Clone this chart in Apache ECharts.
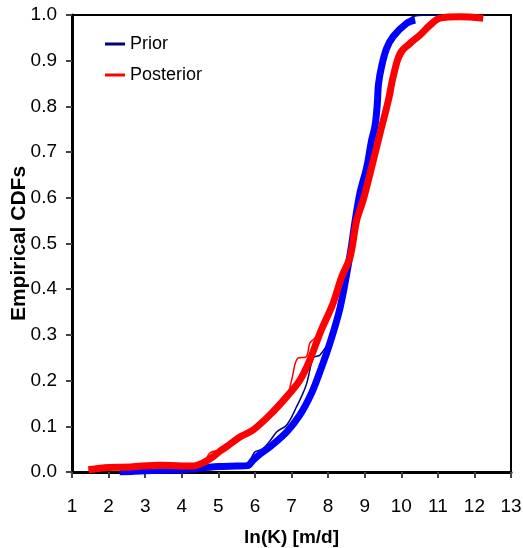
<!DOCTYPE html>
<html>
<head>
<meta charset="utf-8">
<script src="https://cdn.jsdelivr.net/npm/echarts@6/dist/echarts.min.js"></script>
<style>
html, body { margin: 0; padding: 0; background: #fff; }
#chart { width: 523px; height: 548px; }
</style>
</head>
<body>
<div id="chart"></div>
<script>
// 先验 / 后验 经验累积分布
var priorX = [2.3, 3.0, 4.0, 4.6, 5.0, 5.5, 5.8, 5.95, 6.15, 6.41, 6.87, 7.23, 7.55, 7.78, 8.05, 8.33, 8.6, 8.74, 8.87, 9.06, 9.19, 9.28, 9.34, 9.38, 9.47, 9.6, 9.78, 10.15, 10.38];
var priorY = [0.0, 0.003, 0.005, 0.009, 0.012, 0.013, 0.014, 0.026, 0.04, 0.055, 0.088, 0.125, 0.173, 0.22, 0.282, 0.36, 0.475, 0.55, 0.61, 0.668, 0.726, 0.756, 0.80, 0.85, 0.89, 0.927, 0.953, 0.982, 0.989];

var postX = [1.45, 2.0, 2.6, 3.4, 4.0, 4.3, 4.58, 4.85, 5.05, 5.22, 5.6, 5.95, 6.41, 6.87, 7.23, 7.5, 7.78, 8.14, 8.37, 8.6, 8.78, 8.96, 9.15, 9.42, 9.65, 9.78, 9.97, 10.24, 10.51, 10.79, 11.06, 11.6, 12.24];
var postY = [0.005, 0.01, 0.011, 0.015, 0.013, 0.013, 0.02, 0.033, 0.046, 0.055, 0.077, 0.092, 0.125, 0.165, 0.201, 0.245, 0.304, 0.37, 0.427, 0.47, 0.55, 0.595, 0.654, 0.741, 0.814, 0.865, 0.916, 0.938, 0.956, 0.978, 0.993, 0.996, 0.993];

// 细线 (单个实现)
var priorThinX = [2.3, 4.0, 5.0, 5.75, 5.9, 6.0, 6.2, 6.41, 6.6, 6.87, 7.14, 7.4, 7.6, 7.78, 8.05, 8.33, 8.6, 8.87, 9.06, 9.19, 9.28, 9.38, 9.6, 9.78, 10.15, 10.3, 10.7, 11.05];
var priorThinY = [0.0, 0.004, 0.011, 0.013, 0.03, 0.044, 0.05, 0.068, 0.088, 0.103, 0.143, 0.19, 0.25, 0.256, 0.29, 0.36, 0.475, 0.61, 0.668, 0.726, 0.756, 0.85, 0.927, 0.953, 0.982, 0.996, 1.0, 1.0];

var postThinX = [1.45, 2.6, 4.0, 4.58, 4.75, 4.85, 5.0, 5.22, 5.6, 5.95, 6.41, 6.87, 7.0, 7.17, 7.4, 7.5, 7.6, 7.78, 8.14, 8.6, 8.96, 9.42, 9.78, 10.24, 10.79, 11.06, 11.3, 12.0];
var postThinY = [0.005, 0.011, 0.013, 0.02, 0.04, 0.045, 0.047, 0.055, 0.077, 0.092, 0.125, 0.165, 0.2, 0.249, 0.252, 0.282, 0.29, 0.304, 0.37, 0.47, 0.595, 0.741, 0.865, 0.938, 0.978, 0.993, 1.0, 1.0];

function pairs(xs, ys) {
	var out = [];
	for (var i = 0; i < xs.length; i++) {
		out.push([xs[i], ys[i]]);
	}
	return out;
}

var font = 'Liberation Sans, Arial, sans-serif';
var myChart = echarts.init(document.getElementById('chart'));

var option = {
	animation : false,
	backgroundColor : '#fff',
	grid : {
		left : 72,
		right : 12,
		top : 15,
		bottom : 76,
		containLabel : false,
		outerBoundsMode : 'none',
		show : true,
		borderColor : '#000',
		borderWidth : 2
	},
	legend : {
		orient : 'vertical',
		left : 100,
		top : 30,
		itemWidth : 20,
		itemHeight : 3,
		itemGap : 13,
		icon : 'rect',
		textStyle : {
			fontFamily : font,
			fontSize : 18,
			color : '#000'
		},
		data : [ 'Prior', 'Posterior' ]
	},
	xAxis : {
		type : 'value',
		min : 1,
		max : 13,
		interval : 1,
		name : 'ln(K) [m/d]',
		nameLocation : 'middle',
		nameGap : 56,
		nameMoveOverlap : false,
		nameTextStyle : {
			fontFamily : font,
			fontSize : 19,
			fontWeight : 'bold',
			color : '#000'
		},
		axisLine : {
			onZero : false,
			lineStyle : { color : '#000', width : 3 }
		},
		axisTick : {
			inside : false,
			length : 6,
			lineStyle : { color : '#444', width : 2 }
		},
		axisLabel : {
			margin : 25,
			fontFamily : font,
			fontSize : 19,
			color : '#000'
		},
		splitLine : { show : false }
	},
	yAxis : {
		type : 'value',
		min : 0,
		max : 1,
		interval : 0.1,
		name : 'Empirical CDFs',
		nameLocation : 'middle',
		nameGap : 42,
		nameMoveOverlap : false,
		nameTextStyle : {
			fontFamily : font,
			fontSize : 21,
			fontWeight : 'bold',
			color : '#000'
		},
		axisLine : {
			onZero : false,
			lineStyle : { color : '#000', width : 3 }
		},
		axisTick : {
			inside : false,
			length : 6,
			lineStyle : { color : '#444', width : 2 }
		},
		axisLabel : {
			margin : 15,
			fontFamily : font,
			fontSize : 19,
			color : '#000',
			formatter : function(v) {
				return v.toFixed(1);
			}
		},
		splitLine : { show : false }
	},
	series : [ {
		name : 'Prior',
		type : 'line',
		data : pairs(priorThinX, priorThinY),
		showSymbol : false,
		smooth : 0.35,
		color : '#000080',
		lineStyle : { color : '#000080', width : 1.5 }
	}, {
		name : 'Posterior',
		type : 'line',
		data : pairs(postThinX, postThinY),
		showSymbol : false,
		smooth : 0.35,
		color : '#FF0000',
		lineStyle : { color : '#FF0000', width : 1.5 }
	}, {
		name : 'PriorThick',
		type : 'line',
		data : pairs(priorX, priorY),
		showSymbol : false,
		smooth : 0.35,
		lineStyle : { color : '#0000FF', width : 7 }
	}, {
		name : 'PosteriorThick',
		type : 'line',
		data : pairs(postX, postY),
		showSymbol : false,
		smooth : 0.35,
		lineStyle : { color : '#FF0000', width : 7 }
	} ]
};
myChart.setOption(option);
</script>
</body>
</html>
